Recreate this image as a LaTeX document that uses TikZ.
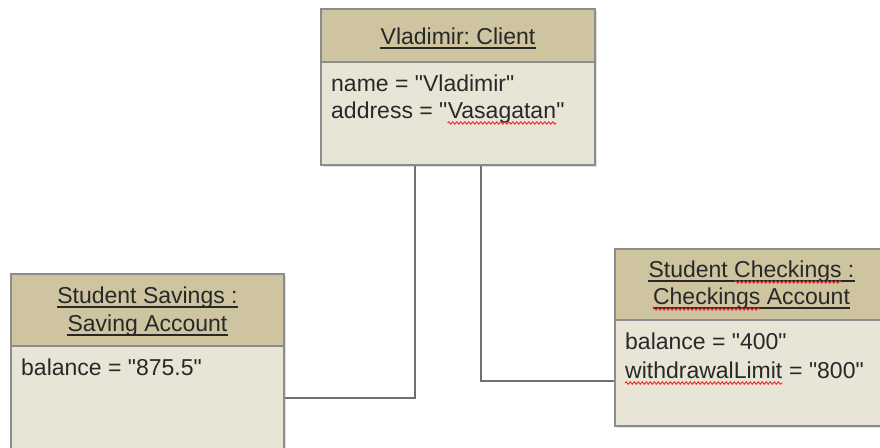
\documentclass[tikz,border=0pt]{standalone}
\usepackage{fontspec}
\setmainfont{Liberation Sans}[Ligatures=TeXOff]
\usetikzlibrary{calc,shadows,decorations.pathmorphing}
\definecolor{headfill}{RGB}{206,196,160}
\definecolor{bodyfill}{RGB}{233,229,214}
\definecolor{edgegray}{RGB}{140,140,140}
\definecolor{wiregray}{RGB}{112,112,112}
\definecolor{inkgray}{RGB}{40,40,40}
\definecolor{spellred}{RGB}{230,40,40}

\begin{document}
\begin{tikzpicture}[x=1pt,y=-1pt,
  font=\fontsize{23}{28}\selectfont\frenchspacing, text=inkgray,
  objbody/.style={draw=edgegray, line width=1.5pt, fill=bodyfill, inner sep=0pt,
    drop shadow={shadow xshift=2pt, shadow yshift=-2pt, opacity=0.25}},
  objhead/.style={draw=edgegray, line width=1.5pt, fill=headfill, inner sep=0pt},
  txt/.style={inner sep=0pt, anchor=base west},
  ttl/.style={inner sep=0pt, anchor=base},
  wire/.style={draw=wiregray, line width=1.6pt},
  uline/.style={draw=inkgray, line width=1.5pt},
  spell/.style={draw=spellred, line width=0.9pt, decorate,
    decoration={snake, amplitude=1.2pt, segment length=4pt}}
]
\useasboundingbox (0,0) rectangle (880,447);
\clip (0,0) rectangle (880,447);

% object boxes: body with a header strip on top
\node[objbody, minimum width=274pt, minimum height=156pt] (client) at (458,87) {};
\node[objhead, minimum width=274pt, minimum height=53pt] (clientH) at (458,35.5) {};

\node[objbody, minimum width=273pt, minimum height=206pt] (savings) at (147.5,377) {};
\node[objhead, minimum width=273pt, minimum height=72pt] (savingsH) at (147.5,310) {};

\node[objbody, minimum width=273pt, minimum height=177pt] (checking) at (751.5,337.5) {};
\node[objhead, minimum width=273pt, minimum height=71pt] (checkingH) at (751.5,284.5) {};

% links from the client to its accounts
\draw[wire] ($(client.south)+(-43,0)$) |- ($(savings.east)+(0,21)$);
\draw[wire] ($(client.south)+(23,0)$) |- ($(checking.west)+(0,43.5)$);

% client
\node[ttl] (clientT) at (458,44) {Vladimir: Client};
\draw[uline] ($(clientT.base west)+(0,4)$) -- ($(clientT.base east)+(0,4)$);
\node[txt] (cName) at (331,91) {name = "Vladimir"};
\node[txt] (cAddrA) at (331,118) {address = "};
\node[txt] (cAddrB) at (cAddrA.base east) {Vasagatan};
\node[txt] (cAddrC) at (cAddrB.base east) {"};
\draw[spell] ($(cAddrB.base west)+(0,5)$) -- ($(cAddrB.base east)+(0,5)$);

% savings account
\node[ttl] (sT1) at (147.5,303) {Student Savings :\ };
\draw[uline] ($(sT1.base west)+(0,4)$) -- ($(sT1.base east)+(0,4)$);
\node[ttl] (sT2) at (147.5,331) {Saving Account};
\draw[uline] ($(sT2.base west)+(0,4)$) -- ($(sT2.base east)+(0,4)$);
\node[txt] (sBal) at (21,375) {balance = "875.5"};

% checkings account
\node[ttl] (kT1) at (751.5,277) {Student Checkings :\ };
\draw[uline] ($(kT1.base west)+(0,4)$) -- ($(kT1.base east)+(0,4)$);
\node[txt] (kT1a) at (kT1.base west) {\phantom{Student\ }};
\node[txt] (kT1b) at (kT1a.base east) {\phantom{Checkings}};
\draw[spell] ($(kT1b.base west)+(0,5)$) -- ($(kT1b.base east)+(0,5)$);

\node[ttl] (kT2) at (751.5,304) {Checkings Account};
\draw[uline] ($(kT2.base west)+(0,4)$) -- ($(kT2.base east)+(0,4)$);
\node[txt] (kT2a) at (kT2.base west) {\phantom{Checkings}};
\draw[spell] ($(kT2a.base west)+(0,5)$) -- ($(kT2a.base east)+(0,5)$);

\node[txt] (kBal) at (625,349) {balance = "400"};
\node[txt] (kLimA) at (625,378) {withdrawalLimit};
\node[txt] (kLimB) at (kLimA.base east) {\ = "800"};
\draw[spell] ($(kLimA.base west)+(0,5)$) -- ($(kLimA.base east)+(0,5)$);
\end{tikzpicture}
\end{document}
